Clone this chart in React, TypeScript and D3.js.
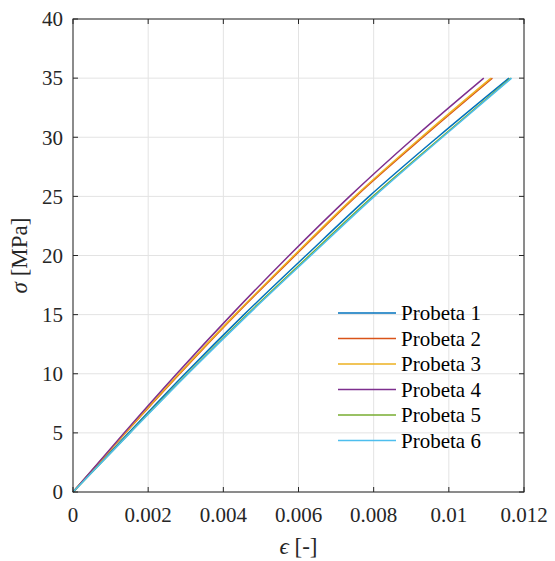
import React, { useMemo } from "react";
import * as d3 from "d3";

const stress = [0, 5, 10, 15, 20, 25, 30, 35];

const probeta1 = [0, 0.00148, 0.00298, 0.00455, 0.0062, 0.00788, 0.0097, 0.0116];
const probeta2 = [0, 0.0014, 0.00284, 0.00433, 0.00591, 0.00753, 0.00931, 0.01116];
const probeta3 = [0, 0.00139, 0.00282, 0.00431, 0.00588, 0.0075, 0.00927, 0.01112];
const probeta4 = [0, 0.00136, 0.00276, 0.00422, 0.00575, 0.00736, 0.00909, 0.01093];
const probeta5 = [0, 0.00151, 0.00304, 0.00463, 0.00629, 0.00798, 0.0098, 0.01165];
const probeta6 = [0, 0.00152, 0.00306, 0.00466, 0.00633, 0.00802, 0.00983, 0.01167];

const seriesNames = ["Probeta 1", "Probeta 2", "Probeta 3", "Probeta 4", "Probeta 5", "Probeta 6"];
const seriesValues = [probeta1, probeta2, probeta3, probeta4, probeta5, probeta6];
const colors = ["#0072BD", "#D95319", "#EDB120", "#7E2F8E", "#77AC30", "#4DBEEE"];

const xTicks = [0, 0.002, 0.004, 0.006, 0.008, 0.01, 0.012];
const xTickLabels = ["0", "0.002", "0.004", "0.006", "0.008", "0.01", "0.012"];
const yTicks = [0, 5, 10, 15, 20, 25, 30, 35, 40];

const serif = "Liberation Serif";

export default function App() {
  const width = 555;
  const height = 561;
  const margin = { top: 19, right: 31, bottom: 69, left: 73 };
  const innerW = width - margin.left - margin.right;
  const innerH = height - margin.top - margin.bottom;
  const axisColor = "#262626";

  const x = useMemo(() => d3.scaleLinear().domain([0, 0.012]).range([0, innerW]), [innerW]);
  const y = useMemo(() => d3.scaleLinear().domain([0, 40]).range([innerH, 0]), [innerH]);

  const line = d3
    .line<number>()
    .x((d) => x(d))
    .y((_, i) => y(stress[i]))
    .curve(d3.curveMonotoneX);

  const legendX = 338 - margin.left;
  const legendY = 313 - margin.top;
  const legendStep = 25.5;
  const txt = { fontFamily: serif };

  return (
    <svg width={width} height={height} style={{ position: "absolute", left: 0, top: 0, background: "#fff" }}>
      <g transform={`translate(${margin.left},${margin.top})`}>
        {/* grid */}
        {xTicks.map((t) => (
          <line key={"gx" + t} x1={x(t)} x2={x(t)} y1={0} y2={innerH} stroke="#e3e3e3" strokeWidth={1} />
        ))}
        {yTicks.map((t) => (
          <line key={"gy" + t} x1={0} x2={innerW} y1={y(t)} y2={y(t)} stroke="#e3e3e3" strokeWidth={1} />
        ))}

        {/* curves */}
        {seriesValues.map((vals, i) => (
          <path key={seriesNames[i]} d={line(vals) ?? ""} fill="none" stroke={colors[i]} strokeWidth={1.5} />
        ))}

        {/* box + ticks */}
        <rect x={0} y={0} width={innerW} height={innerH} fill="none" stroke={axisColor} strokeWidth={1} />
        {xTicks.map((t, i) => (
          <g key={"tx" + t}>
            <line x1={x(t)} x2={x(t)} y1={innerH} y2={innerH - 5} stroke={axisColor} />
            <line x1={x(t)} x2={x(t)} y1={0} y2={5} stroke={axisColor} />
            <text x={x(t)} y={innerH + 30} textAnchor="middle" fontSize={21} fill={axisColor} style={txt}>
              {xTickLabels[i]}
            </text>
          </g>
        ))}
        {yTicks.map((t) => (
          <g key={"ty" + t}>
            <line x1={0} x2={5} y1={y(t)} y2={y(t)} stroke={axisColor} />
            <line x1={innerW} x2={innerW - 5} y1={y(t)} y2={y(t)} stroke={axisColor} />
            <text x={-10} y={y(t)} dy="0.35em" textAnchor="end" fontSize={21} fill={axisColor} style={txt}>
              {t}
            </text>
          </g>
        ))}

        {/* axis labels */}
        <text x={innerW / 2} y={innerH + 62} textAnchor="middle" fontSize={23} fill={axisColor} style={txt}>
          <tspan fontStyle="italic">ϵ</tspan> [-]
        </text>
        <text
          transform={`translate(${-46},${innerH / 2}) rotate(-90)`}
          textAnchor="middle"
          fontSize={23}
          fill={axisColor}
          style={txt}
        >
          <tspan fontStyle="italic">σ</tspan> [MPa]
        </text>

        {/* legend */}
        {seriesNames.map((name, i) => (
          <g key={"lg" + name} transform={`translate(${legendX},${legendY + i * legendStep})`}>
            <line x1={0} x2={58} y1={0} y2={0} stroke={colors[i]} strokeWidth={1.5} />
            <text x={63} y={0} dy="0.35em" fontSize={21} fill="#000" style={txt}>
              {name}
            </text>
          </g>
        ))}
      </g>
    </svg>
  );
}
